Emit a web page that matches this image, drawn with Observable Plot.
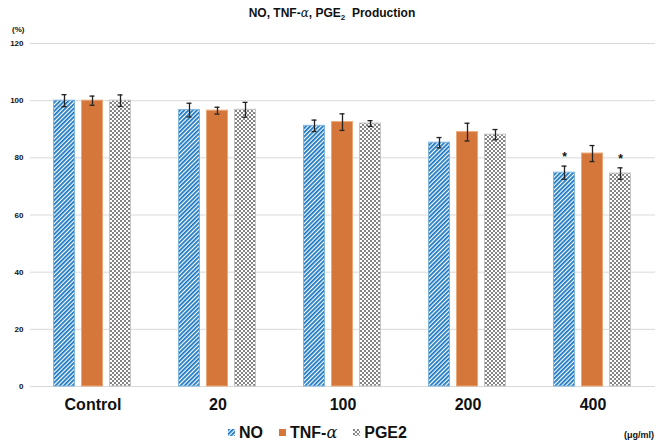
<!DOCTYPE html>
<html>
<head>
<meta charset="utf-8">
<script src="https://cdn.jsdelivr.net/npm/d3@7"></script>
<script src="https://cdn.jsdelivr.net/npm/@observablehq/plot@0.6"></script>
<style>
  body { margin: 0; background: #fff; }
  #wrap { position: relative; width: 656px; height: 444px; font-family: "Liberation Sans", Arial, sans-serif; color: #111; }
  #title { position: absolute; top: 6px; left: 4px; width: 656px; text-align: center; font-weight: bold; font-size: 12px; }
  #title sub { font-size: 8px; }
  .alpha { font-family: "DejaVu Serif", serif; font-style: italic; font-weight: normal; }
  #chart { position: absolute; top: 24px; left: 0; }
  #ylab { position: absolute; left: 12px; top: 25px; font-size: 8px; font-weight: bold; }
  #unit { position: absolute; left: 624px; top: 430px; font-size: 9px; font-weight: bold; }
  #legend { position: absolute; left: 228px; top: 423px; display: flex; align-items: center; font-weight: bold; font-size: 16px; }
  #legend .item { display: flex; align-items: center; margin-right: 16px; }
  #legend svg { margin-right: 4px; }
</style>
</head>
<body>
<svg width="0" height="0" style="position:absolute">
  <defs>
    <pattern id="pat-no" patternUnits="userSpaceOnUse" width="3" height="3" patternTransform="rotate(45)">
      <rect width="3" height="3" fill="#ffffff"></rect>
      <rect width="1.8" height="3" fill="#1b77c3"></rect>
    </pattern>
    <pattern id="pat-tnf" patternUnits="userSpaceOnUse" width="4" height="4">
      <rect width="4" height="4" fill="#d5773a"></rect>
    </pattern>
    <pattern id="pat-pge" patternUnits="userSpaceOnUse" width="4" height="4">
      <rect width="4" height="4" fill="#ffffff"></rect>
      <rect width="2" height="2" fill="#858585"></rect>
      <rect x="2" y="2" width="2" height="2" fill="#858585"></rect>
    </pattern>
  </defs>
</svg>
<div id="wrap">
  <div id="title">NO, TNF-<span class="alpha">α</span>, PGE<sub>2</sub>&nbsp; Production</div>
  <div id="ylab">(%)</div>
  <div id="chart"></div>
  <div id="legend">
    <div class="item"><svg width="7" height="7"><rect width="7" height="7" fill="url(#pat-no)"></rect></svg>NO</div>
    <div class="item"><svg width="7" height="7"><rect width="7" height="7" fill="url(#pat-tnf)"></rect></svg>TNF-<span class="alpha">α</span></div>
    <div class="item"><svg width="7" height="7"><rect width="7" height="7" fill="url(#pat-pge)"></rect></svg>PGE2</div>
  </div>
  <div id="unit">(μg/ml)</div>
</div>
<script>
const categories = ["Control", "20", "100", "200", "400"];
const series = ["NO", "TNF-α", "PGE2"];
const noValues  = [100, 96.7, 91.2, 85.3, 74.8];
const noErrors  = [2.1, 2.4, 2.0, 1.8, 2.3];
const tnfValues = [100, 96.5, 92.5, 89.0, 81.5];
const tnfErrors = [1.6, 1.2, 2.9, 3.1, 2.8];
const pgeValues = [100, 96.8, 92.0, 88.1, 74.5];
const pgeErrors = [2.0, 2.6, 1.0, 1.8, 2.0];
const significantCategory = ["400", "400"];
const significantSeries = ["NO", "PGE2"];
const yTicks = [0, 20, 40, 60, 80, 100, 120];

const fills = {"NO": "url(#pat-no)", "TNF-α": "url(#pat-tnf)", "PGE2": "url(#pat-pge)"};
const strokes = {"NO": "#7fb6e0", "TNF-α": "#eaa878", "PGE2": "#c4c4c4"};

const valueSets = [noValues, tnfValues, pgeValues];
const errorSets = [noErrors, tnfErrors, pgeErrors];
const rows = [];
categories.forEach((c, i) => {
  series.forEach((s, j) => {
    rows.push({category: c, series: s, value: valueSets[j][i], err: errorSets[j][i]});
  });
});
const stars = significantCategory.map((c, k) => {
  const r = rows.find(d => d.category === c && d.series === significantSeries[k]);
  return {category: c, series: r.series, top: r.value + r.err};
});

const chart = Plot.plot({
  width: 656,
  height: 392,
  marginTop: 19,
  marginLeft: 30,
  marginRight: 1,
  marginBottom: 30,
  style: {fontFamily: "'Liberation Sans', Arial, sans-serif", fontWeight: "bold", color: "#111"},
  fx: {domain: categories, padding: 0, label: null, axis: null},
  x: {domain: series, paddingInner: 0.2, paddingOuter: 0.8, axis: null},
  y: {domain: [0, 120], axis: null},
  marks: [
    Plot.ruleY(yTicks, {y: d => d, stroke: "#d9d9d9", strokeWidth: 1}),
    Plot.axisY({ticks: yTicks, tickSize: 0, tickPadding: 7, fontSize: 8, label: null}),
    Plot.axisFx({anchor: "bottom", tickSize: 0, tickPadding: 12, fontSize: 16, fontWeight: "bold", label: null}),
    ...series.map(s => Plot.barY(rows.filter(d => d.series === s), {
      fx: "category", x: "series", y: "value",
      fill: fills[s], stroke: strokes[s], strokeWidth: 1, insetLeft: 0.5, insetRight: 0.5
    })),
    Plot.ruleX(rows, {fx: "category", x: "series", y1: d => d.value - d.err, y2: d => d.value + d.err, stroke: "#222", strokeWidth: 1.3}),
    Plot.tickY(rows, {fx: "category", x: "series", y: d => d.value + d.err, stroke: "#222", strokeWidth: 1.3, insetLeft: 8.5, insetRight: 8.5}),
    Plot.tickY(rows, {fx: "category", x: "series", y: d => d.value - d.err, stroke: "#222", strokeWidth: 1.3, insetLeft: 8.5, insetRight: 8.5}),
    Plot.text(stars, {fx: "category", x: "series", y: "top", text: () => "*", dy: -9, fontSize: 12, fontWeight: "bold", fill: "#111"})
  ]
});
document.getElementById("chart").appendChild(chart);
</script>
</body>
</html>
